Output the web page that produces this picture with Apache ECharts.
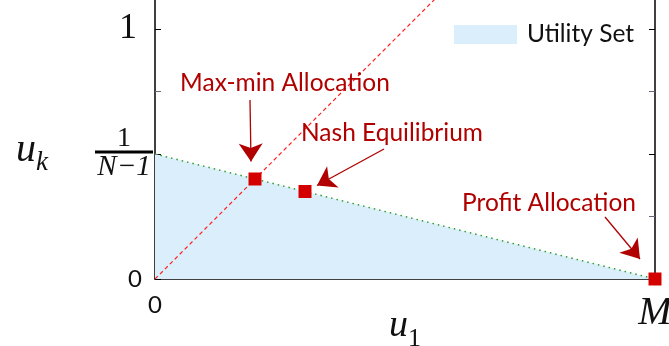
<!DOCTYPE html>
<html>
<head>
<meta charset="utf-8">
<script src="https://cdn.jsdelivr.net/npm/echarts@6/dist/echarts.min.js"></script>
<style>
html, body { margin: 0; padding: 0; background: #fff; }
#main { width: 669px; height: 346px; }
</style>
</head>
<body>
<div id="main"></div>
<script>
// data
var utilitySet = [[0, 0.5], [1, 0]];
var ratioLine = [[0, 0], [0.6, 1.2]];
var pointNames = ['Max-min Allocation', 'Nash Equilibrium', 'Profit Allocation'];
var pointValues = [[0.2, 0.4], [0.3, 0.35], [1, 0]];
var noteValues = [[0.26, 0.784], [0.474, 0.584], [0.788, 0.304]];
var arrowFrom = [[0.19, 0.716], [0.458, 0.52], [0.9, 0.248]];
var arrowTo = [[0.192, 0.47], [0.324, 0.374], [0.97, 0.08]];

var sans = 'Lato, "Open Sans", sans-serif';
var serif = '"Liberation Serif", "DejaVu Serif", serif';
var darkRed = '#b00000';

var myChart = echarts.init(document.getElementById('main'));

var arrows = arrowFrom.map(function (p, i) {
    return [{ coord: p }, { coord: arrowTo[i] }];
});
var notes = noteValues.map(function (p, i) {
    return { value: p, name: pointNames[i] };
});

var option = {
    animation: false,
    backgroundColor: '#fff',
    grid: { left: 155, right: 14, top: -21, bottom: 67, outerBoundsMode: 'none', containLabel: false },
    legend: {
        left: 449, top: 17,
        itemWidth: 63, itemHeight: 19, itemGap: 10,
        data: [{ name: 'Utility Set', icon: 'rect', itemStyle: { color: '#daeefc' } }],
        textStyle: { fontFamily: sans, fontSize: 24.5, color: '#111', padding: [0, 0, 0, 5] }
    },
    xAxis: {
        type: 'value', min: 0, max: 1, interval: 0.25,
        splitLine: { show: false },
        axisLine: { lineStyle: { color: '#000', width: 1.5 } },
        axisTick: { inside: true, length: 6, lineStyle: { color: '#000' } },
        minorTick: { show: true, splitNumber: 2, length: 6, lineStyle: { color: '#667' } },
        axisLabel: {
            margin: 14,
            formatter: function (v) {
                if (v === 0) return '{z|0}';
                if (v === 1) return '{m|M}';
                return '';
            },
            rich: {
                z: { fontFamily: sans, fontSize: 24, color: '#111' },
                m: { fontFamily: serif, fontStyle: 'italic', fontSize: 40, color: '#111' }
            }
        },
        name: '{u|u}{s|1}',
        nameLocation: 'middle', nameGap: 28, nameMoveOverlap: false,
        nameTextStyle: {
            verticalAlign: 'top',
            rich: {
                u: { fontFamily: serif, fontStyle: 'italic', fontSize: 38, color: '#111', verticalAlign: 'bottom' },
                s: { fontFamily: serif, fontSize: 26, color: '#111', verticalAlign: 'bottom', padding: [0, 0, -7, 0] }
            }
        }
    },
    yAxis: [{
        type: 'value', min: 0, max: 1.2, interval: 0.5,
        splitLine: { show: false },
        axisLine: { lineStyle: { color: '#000', width: 1.5 } },
        axisTick: { inside: true, length: 6, lineStyle: { color: '#000' } },
        minorTick: { show: true, splitNumber: 2, length: 6, lineStyle: { color: '#667' } },
        axisLabel: {
            margin: 2,
            formatter: function (v) {
                if (v === 0) return '{z|0}';
                if (v === 0.5) return '{n|1}\n{b|}\n{d|N−1}';
                if (v === 1) return '{o|1}';
                return '';
            },
            rich: {
                z: { fontFamily: sans, fontSize: 24, color: '#111', padding: [0, 11, 0, 0] },
                o: { fontFamily: serif, fontSize: 36, color: '#111', padding: [0, 16, 0, 0] },
                n: { fontFamily: serif, fontSize: 28, color: '#111', width: 58, align: 'center', lineHeight: 22 },
                b: { width: 58, height: 3, backgroundColor: '#000', lineHeight: 5 },
                d: { fontFamily: serif, fontStyle: 'italic', fontSize: 29, color: '#111', width: 58, align: 'center', lineHeight: 26 }
            }
        },
        name: '{u|u}{s|k}',
        nameLocation: 'middle', nameGap: 107, nameRotate: 0, nameMoveOverlap: false,
        nameTextStyle: {
            align: 'right',
            padding: [42, 0, 0, 0],
            rich: {
                u: { fontFamily: serif, fontStyle: 'italic', fontSize: 40, color: '#111', verticalAlign: 'bottom' },
                s: { fontFamily: serif, fontStyle: 'italic', fontSize: 27, color: '#111', verticalAlign: 'bottom', padding: [0, 0, -6, 0] }
            }
        }
    }, {
        type: 'value', min: 0, max: 1.2, interval: 0.5, position: 'right',
        splitLine: { show: false },
        axisLine: { lineStyle: { color: '#000', width: 1.5 } },
        axisTick: { inside: true, length: 6, lineStyle: { color: '#000' } },
        minorTick: { show: true, splitNumber: 2, length: 6, lineStyle: { color: '#667' } },
        axisLabel: { show: false }
    }],
    series: [
        {
            name: 'Utility Set',
            type: 'line',
            data: utilitySet,
            symbol: 'none',
            lineStyle: { color: '#2ca02c', width: 1.5, type: [1.5, 4] },
            areaStyle: { color: '#daeefc', opacity: 1 },
            z: 1
        },
        {
            name: 'ratio',
            type: 'line',
            data: ratioLine,
            symbol: 'none',
            lineStyle: { color: '#ff2020', width: 1.2, type: [4, 3] },
            z: 2
        },
        {
            name: 'points',
            type: 'scatter',
            data: pointValues,
            symbol: 'rect',
            symbolSize: 13,
            clip: false,
            itemStyle: { color: '#d40000', opacity: 1 },
            z: 5
        },
        {
            name: 'notes',
            type: 'scatter',
            data: notes,
            symbolSize: 0,
            clip: false,
            itemStyle: { opacity: 1 },
            label: {
                show: true, position: 'inside',
                formatter: '{b}',
                fontFamily: sans, fontSize: 24.5, color: darkRed
            },
            markLine: {
                silent: true,
                symbol: ['none', 'arrow'],
                symbolSize: 18,
                label: { show: false },
                lineStyle: { color: darkRed, width: 1.3, type: 'solid', opacity: 1 },
                itemStyle: { color: darkRed },
                data: arrows
            },
            z: 4
        }
    ]
};

myChart.setOption(option);
</script>
</body>
</html>
